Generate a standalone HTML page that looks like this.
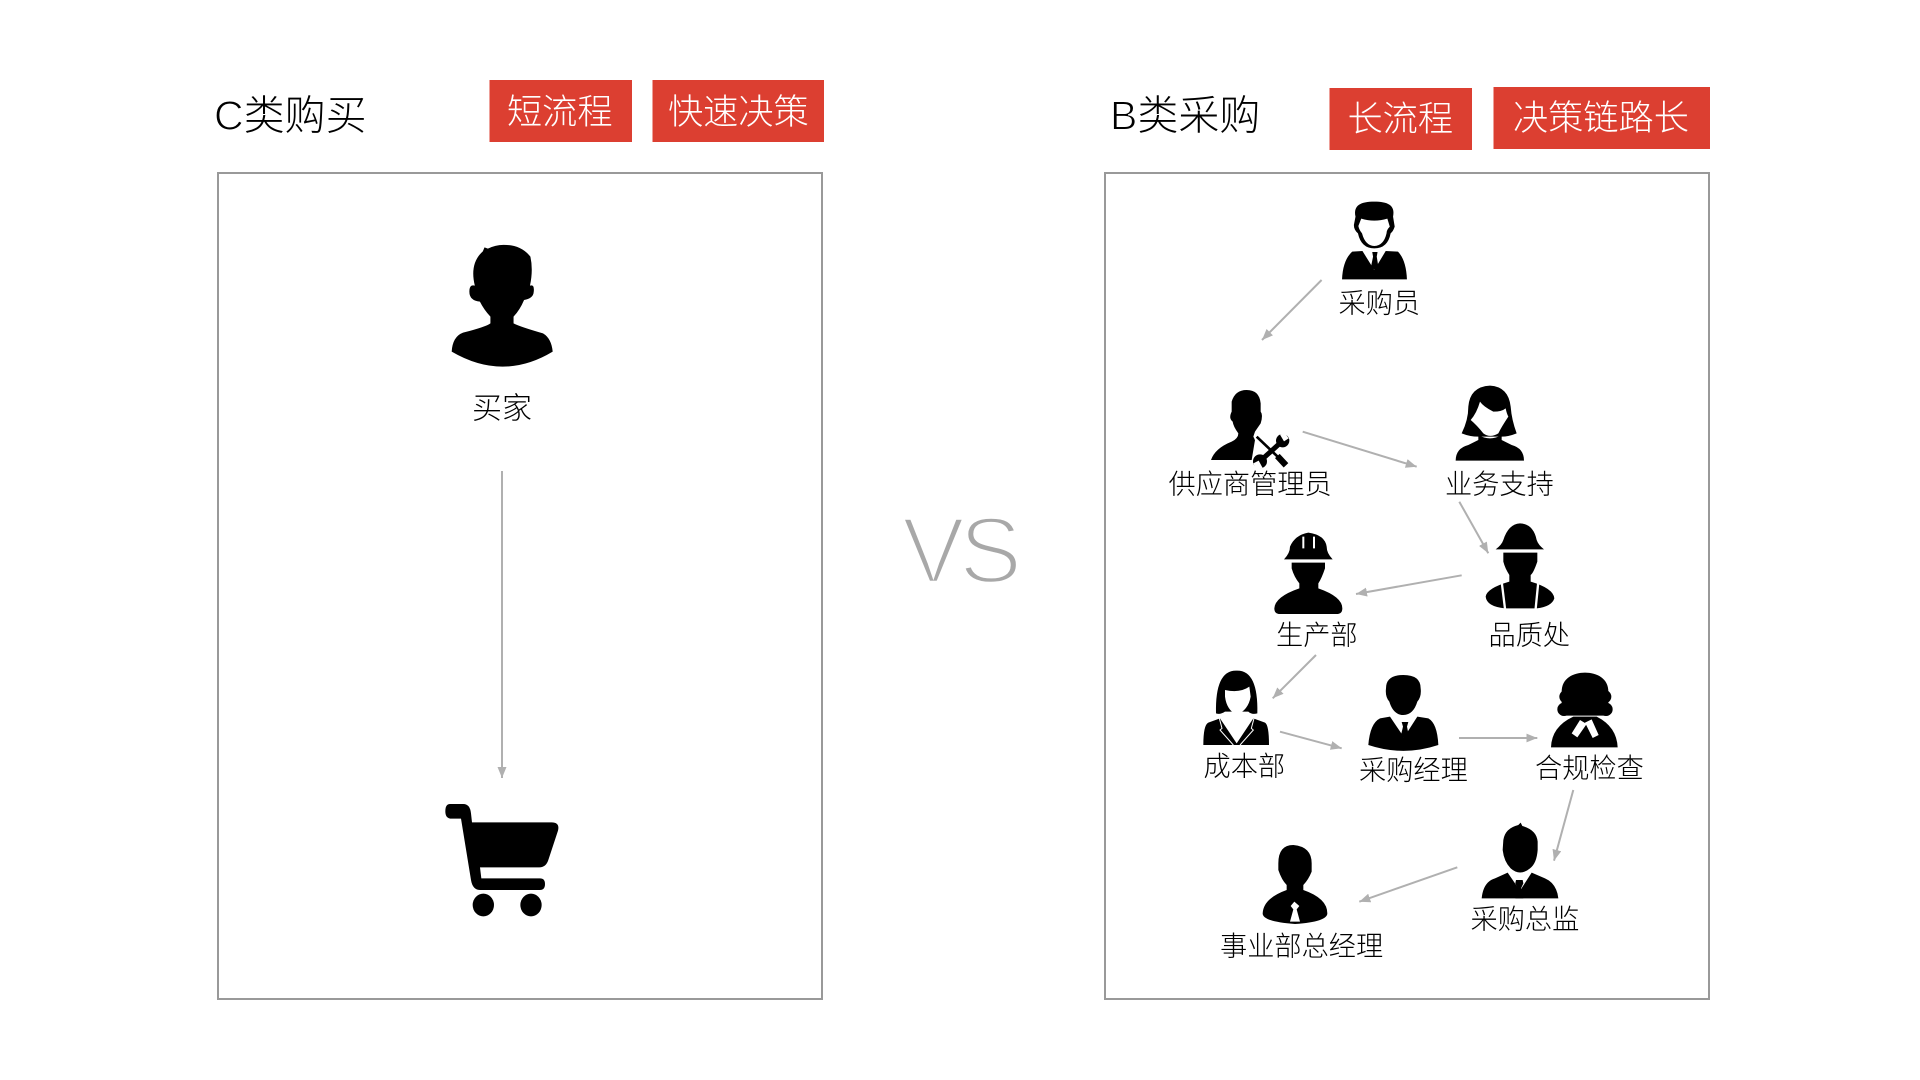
<!DOCTYPE html>
<html lang="zh"><head><meta charset="utf-8"><title>C vs B</title>
<style>
html,body{margin:0;padding:0;background:#fff;width:1920px;height:1080px;overflow:hidden}
svg{display:block}
text{font-family:"Liberation Sans","Noto Sans CJK SC",sans-serif;font-weight:300}
.t{font-size:41px;fill:#000}
.t tspan.lat{stroke:#fff;stroke-width:1.1px}
.r{font-size:35.2px;fill:#fff}
.l{font-size:27.2px;fill:#000}
.a{stroke:#b0b0b0;stroke-width:2;fill:none;marker-end:url(#m)}
</style></head><body>
<svg width="1920" height="1080" viewBox="0 0 1920 1080" xmlns="http://www.w3.org/2000/svg">
<defs><marker id="m" markerUnits="userSpaceOnUse" markerWidth="12" markerHeight="10" refX="11" refY="5" orient="auto"><path d="M0 .5L11 5L0 9.5Z" fill="#b0b0b0"/></marker></defs>
<rect width="1920" height="1080" fill="#fff"/>

<rect x="218" y="173" width="604" height="826" fill="none" stroke="#999" stroke-width="2"/>
<rect x="1105" y="173" width="604" height="826" fill="none" stroke="#999" stroke-width="2"/>

<rect x="489.5" y="80" width="142.500" height="62" fill="#dc3f31"/>
<rect x="652.500" y="80" width="171.500" height="62" fill="#dc3f31"/>
<rect x="1329.500" y="88" width="142.500" height="62" fill="#dc3f31"/>
<rect x="1493.500" y="87" width="216.500" height="62" fill="#dc3f31"/>

<text class="t" x="214" y="129.500"><tspan class="lat">C</tspan>类购买</text>
<text class="t" x="1110" y="129.500"><tspan class="lat">B</tspan>类采购</text>
<text class="r" x="507" y="124">短流程</text>
<text class="r" x="668" y="124">快速决策</text>
<text class="r" x="1347.500" y="131">长流程</text>
<text class="r" x="1513" y="130">决策链路长</text>

<text x="902" y="582.500" font-size="94" textLength="120" style="font-family:'Liberation Sans',sans-serif;fill:#a8a8a8;stroke:#fff;stroke-width:3.5px">VS</text>

<text class="l" x="472" y="418.500" style="font-size:30px">买家</text>
<text class="l" x="1338.500" y="312.500">采购员</text>
<text class="l" x="1168.500" y="493.500">供应商管理员</text>
<text class="l" x="1445" y="493.500">业务支持</text>
<text class="l" x="1276" y="644.500">生产部</text>
<text class="l" x="1488.500" y="644.500">品质处</text>
<text class="l" x="1203.500" y="775.500">成本部</text>
<text class="l" x="1359" y="779.500">采购经理</text>
<text class="l" x="1535" y="777.500">合规检查</text>
<text class="l" x="1470.500" y="928.500">采购总监</text>
<text class="l" x="1220" y="955.500">事业部总经理</text>

<line class="a" x1="502" y1="471" x2="502" y2="778"/>
<line class="a" x1="1321.6" y1="280" x2="1262" y2="340"/>
<line class="a" x1="1302.7" y1="431.7" x2="1416.7" y2="466.7"/>
<line class="a" x1="1459.3" y1="501.7" x2="1488.3" y2="553.3"/>
<line class="a" x1="1461.7" y1="575.3" x2="1356" y2="594"/>
<line class="a" x1="1316" y1="655" x2="1272.7" y2="698.3"/>
<line class="a" x1="1280" y1="731.7" x2="1341.7" y2="748.3"/>
<line class="a" x1="1459" y1="738" x2="1537.3" y2="738"/>
<line class="a" x1="1573.3" y1="790" x2="1554" y2="860.7"/>
<line class="a" x1="1457.3" y1="867.3" x2="1359.3" y2="901.7"/>

<!-- cart -->
<g transform="translate(400,760) scale(.33333)">
<path d="M150 132H190Q210 132 213 160L216 187H455Q480 187 474 212L445 300Q438 322 418 322H240L244 355H420Q435 355 435 372Q435 390 420 390H240Q218 390 213 360L183 176H155Q136 176 136 154Q136 132 150 132Z"/>
<ellipse cx="250" cy="435" rx="32" ry="34"/><ellipse cx="393" cy="435" rx="32" ry="34"/>
</g>

<!-- buyer -->
<g transform="translate(200,60) scale(.42088,.33333)">
<path d="M672 574L676 562L684 566Q705 552 730 555Q765 558 785 590Q792 630 784 677Q795 672 793 695Q792 716 770 720Q760 750 745 770V790Q760 800 815 820Q835 835 838 875Q720 965 598 875Q600 830 625 818Q680 800 690 790V770Q675 750 665 725Q640 722 640 695Q640 672 653 677Q640 610 672 574Z"/>
</g>

<!-- 采购员 -->
<g transform="translate(1100,70) scale(.40816,.33333)">
<path d="M626 440C620 405 640 395 672 395C704 395 724 405 718 440L722 470Q718 485 712 490Q705 535 672 535Q640 535 632 490Q622 480 622 465Z"/>
<path fill="#fff" d="M640 446Q672 458 704 446L710 470Q702 480 702 490Q695 527 672 528Q650 527 642 490Q635 480 633 468Z"/>
<path d="M593 628Q595 570 618 545L643 543L672 600L700 543L730 545Q750 570 752 628Z"/>
<path d="M667 546H680L678 560L682 590L673 600L664 590L669 560Z"/>
</g>

<!-- 供应商, 业务, 品质, 生产 -->
<g transform="translate(1140,370) scale(.33333)">
<path d="M275 95Q285 60 320 60Q358 60 362 100V125Q370 135 362 160L345 185L340 200L345 210L335 270H213Q225 235 275 215Q295 205 295 190Q280 170 278 155Q265 145 275 125Z"/>
<path d="M350 200L440 288M360 278L428 212" stroke="#fff" stroke-width="20" fill="none"/>
<path d="M350 200L415 262" stroke="#000" stroke-width="8" fill="none"/>
<path d="M412 258L438 286" stroke="#000" stroke-width="19" fill="none"/>
<path d="M362 272L425 215" stroke="#000" stroke-width="15" fill="none"/>
<circle cx="428" cy="212" r="20"/><circle cx="360" cy="274" r="21"/>
<path d="M434 188L446 205L432 214L420 194ZM348 298L340 280L356 272L368 294Z" fill="#fff"/>

<path d="M965 190Q985 150 985 110Q990 50 1050 47Q1105 50 1112 110Q1115 150 1130 190Q1105 200 1085 200H1015Q990 200 965 190Z"/>
<path fill="#fff" d="M1020 95Q1030 110 1060 125Q1085 125 1097 115Q1100 130 1105 140Q1085 170 1075 190Q1050 205 1030 190Q1010 165 992 150Q1010 130 1020 95Z"/>
<path d="M947 272Q947 235 985 225L1015 210V195Q1050 215 1085 195V210L1115 225Q1152 235 1152 272Z"/>

<path d="M1067 538Q1085 525 1090 510Q1105 462 1140 460Q1180 462 1190 510Q1195 525 1212 538Z"/>
<path d="M1090 548H1192V575Q1180 610 1172 615V635Q1240 655 1243 685Q1235 710 1190 715H1095Q1040 710 1037 680Q1040 655 1108 635V615Q1095 595 1090 575Z"/>
<path d="M1085 635L1095 716M1195 635L1187 716" stroke="#fff" stroke-width="7" fill="none"/>

<path d="M432 568Q450 550 450 530Q465 495 505 488Q555 495 560 530Q560 550 578 568Z"/>
<path d="M490 500V535M522 500V535" stroke="#fff" stroke-width="6" fill="none"/>
<path d="M455 578H555V595Q545 625 535 640V655Q607 680 607 715Q607 732 590 732H420Q403 732 403 715Q405 680 478 655V640Q462 620 455 595Z"/>
</g>

<!-- 成本部, 采购经理, 事业部 -->
<g transform="translate(1180,650) scale(.33333)">
<path d="M108 190Q105 60 170 62Q235 60 232 190Q215 195 205 185H135Q120 195 108 190Z"/>
<path fill="#fff" d="M135 120Q180 130 208 110L212 140Q205 180 170 195Q140 180 135 140Z"/>
<path d="M70 285Q70 225 85 218L120 205L170 280L220 205L255 218Q267 225 267 285Z"/>
<path d="M118 205L126 235L120 240L160 285M222 205L214 235L220 240L180 285" stroke="#fff" stroke-width="3" fill="none"/>

<path d="M618 115Q618 75 670 75Q722 75 722 115Q725 140 712 155Q700 195 670 195Q640 195 628 155Q615 140 618 115Z"/>
<path d="M565 285Q570 220 600 205L630 200L672 262L712 200L745 205Q772 220 775 285Q670 320 565 285Z"/>
<path d="M665 216H685L681 230L686 255L675 265L663 255L669 230Z"/>

<path d="M295 640Q295 585 340 585Q395 590 395 640V665Q385 690 370 705V720Q442 745 442 790Q442 815 345 822Q248 815 248 790Q250 745 320 720V705Q305 690 295 660Z"/>
<path fill="#fff" d="M343 755L358 768L350 778L360 815H330L340 778L332 768Z"/>
</g>

<!-- 合规检查, 采购总监 -->
<g transform="translate(1440,650) scale(.33333)">
<path d="M365 125C365 85 400 68 435 68C470 68 505 85 505 125V197H365Z"/>
<circle cx="378" cy="140" r="20"/><circle cx="494" cy="140" r="20"/>
<circle cx="372" cy="178" r="20"/><circle cx="498" cy="178" r="20"/>
<path d="M333 292Q335 230 400 200H470Q530 230 533 292Z"/>
<path fill="#fff" d="M420 210L440 222L412 262L395 250ZM435 218L455 208L476 255L458 264Z"/>

<path d="M190 570Q195 535 235 525L242 518L247 528Q290 540 293 575V600Q290 640 270 655Q240 680 212 655Q192 635 188 600Z"/>
<path d="M125 745Q130 695 165 685L203 668L240 722L275 668L315 685Q350 700 355 745Z"/>
<path d="M228 690H248L250 700L243 715L250 745H226L233 715L226 700Z"/>
</g>
</svg>
</body></html>
